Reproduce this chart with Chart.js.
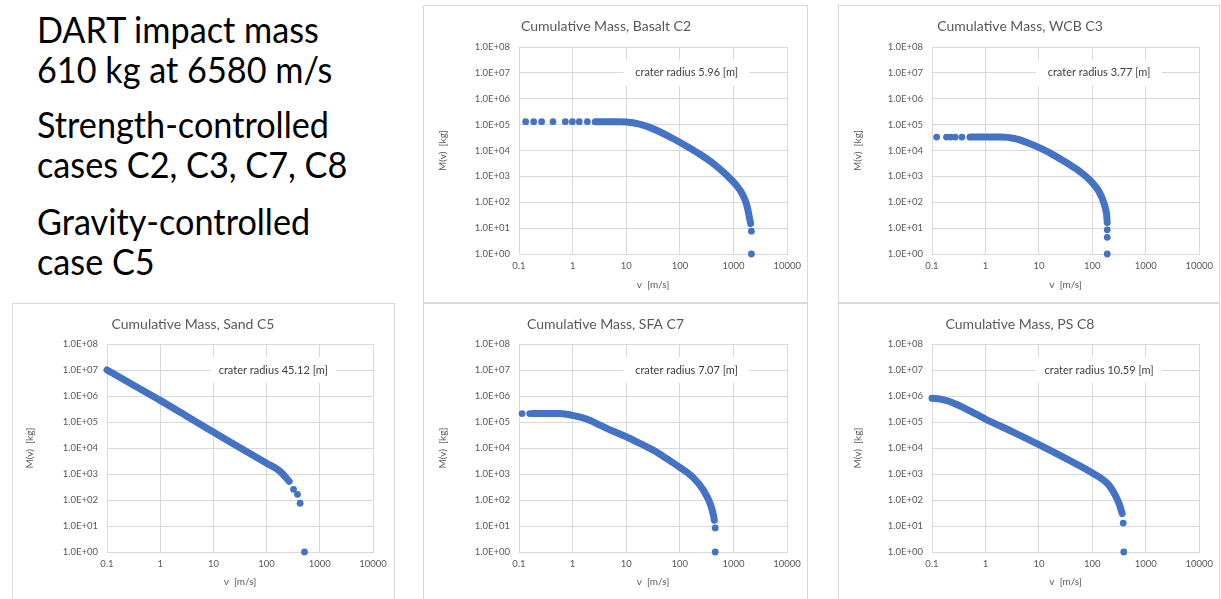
<!DOCTYPE html>
<html>
<head>
<meta charset="utf-8">
<script src="https://cdn.jsdelivr.net/npm/chart.js@4.4.1/dist/chart.umd.min.js"></script>
<style>
  body { margin: 0; background: #fff; width: 1221px; height: 599px; position: relative; overflow: hidden; font-family: Lato, sans-serif; }
  .note { position: absolute; left: 37px; font-size: 37px; line-height: 40px; color: #000; white-space: nowrap; transform-origin: 0 0; transform: scaleX(0.925); }
  .panel { position: absolute; border: 1px solid #d9d9d9; box-sizing: border-box; background: #fff; }
  .panel canvas { position: absolute; left: 0; top: 0; }
</style>
</head>
<body>
<div class="note" style="top:9px">DART impact mass<br>610 kg at 6580 m/s</div>
<div class="note" style="top:104px">Strength-controlled<br>cases C2, C3, C7, C8</div>
<div class="note" style="top:201px">Gravity-controlled<br>case C5</div>

<div class="panel" id="p-basalt"><canvas id="c-basalt"></canvas></div>
<div class="panel" id="p-wcb"><canvas id="c-wcb"></canvas></div>
<div class="panel" id="p-sand"><canvas id="c-sand"></canvas></div>
<div class="panel" id="p-sfa"><canvas id="c-sfa"></canvas></div>
<div class="panel" id="p-ps"><canvas id="c-ps"></canvas></div>

<script>
// axis ticks (decades)
const xTicks = [0.1, 1, 10, 100, 1000, 10000];
const yTicks = [1, 10, 100, 1e3, 1e4, 1e5, 1e6, 1e7, 1e8];

// Basalt C2 -- dense band + loose points
const basaltBandV = [2.64, 7.5, 13.3, 23.6, 41.8, 74, 131, 232, 412, 730, 1120, 1490, 1770, 1985, 2080];
const basaltBandM = [1.3e5, 1.3e5, 1.18e5, 8.7e4, 5.3e4, 2.9e4, 1.5e4, 7.3e3, 3.2e3, 1150, 460, 190, 75, 24, 15];
const basaltDotV = [0.133, 0.188, 0.264, 0.43, 0.73, 0.99, 1.33, 1.88, 2150, 2150];
const basaltDotM = [1.3e5, 1.3e5, 1.3e5, 1.3e5, 1.3e5, 1.3e5, 1.3e5, 1.3e5, 7.6, 1];

// WCB C3
const wcbBandV = [0.54, 1.96, 3.47, 6.15, 10.9, 19.3, 34.2, 60.7, 93, 133, 165, 185, 190];
const wcbBandM = [3.3e4, 3.3e4, 2.9e4, 2.0e4, 1.2e4, 6.5e3, 3.2e3, 1450, 670, 260, 92, 33, 16.6];
const wcbDotV = [0.122, 0.187, 0.223, 0.272, 0.362, 0.51, 190, 190, 190];
const wcbDotM = [3.3e4, 3.3e4, 3.3e4, 3.3e4, 3.3e4, 3.3e4, 8.6, 4.4, 1];

// Sand C5
const sandBandV = [0.1, 0.316, 1, 3.16, 10, 31.6, 100, 176, 266];
const sandBandM = [1.0e7, 2.6e6, 6.8e5, 1.66e5, 4.1e4, 1.02e4, 2.6e3, 1.3e3, 520];
const sandDotV = [321, 381, 427, 516];
const sandDotM = [257, 166, 75, 1];

// SFA C7
const sfaBandV = [0.183, 0.577, 1, 1.82, 3.23, 5.73, 10, 18, 32, 57, 100, 180, 277, 368, 425, 440];
const sfaBandM = [2.1e5, 2.1e5, 1.8e5, 1.3e5, 7.6e4, 4.4e4, 2.7e4, 1.5e4, 8.3e3, 3.9e3, 1.8e3, 710, 235, 73, 26, 16.6];
const sfaDotV = [0.114, 0.158, 458, 458];
const sfaDotM = [2.1e5, 2.1e5, 8.4, 1];

// PS C8
const psBandV = [0.1, 0.14, 0.2, 0.27, 0.37, 1, 3.23, 10, 32.3, 100, 200, 275, 328, 362];
const psBandM = [8.1e5, 7.7e5, 6.4e5, 5.0e5, 3.7e5, 1.3e5, 4.2e4, 1.35e4, 3.9e3, 1.1e3, 390, 138, 59, 30];
const psDotV = [378, 387];
const psDotM = [13, 1];

const BLUE = "#4472c4";
const GRID = "#d9d9d9";
const TEXT = "#595959";

// crater radius label, centred on the 1e7 gridline
const craterLabel = {
  id: "craterLabel",
  afterDatasetsDraw(chart, args, opts) {
    const { ctx, chartArea } = chart;
    const x = chartArea.left + chartArea.width * 0.625;
    const y = chart.scales.y.getPixelForValue(1e7);
    ctx.save();
    ctx.fillStyle = "#fff";
    ctx.fillRect(x - 63, y - 13, 126, 26);
    ctx.fillStyle = "#404040";
    ctx.font = "11px Lato";
    ctx.textAlign = "center";
    ctx.textBaseline = "middle";
    ctx.fillText(opts.text, x, y);
    ctx.restore();
  }
};

function pts(xs, ys) {
  return xs.map((v, i) => ({ x: v, y: ys[i] }));
}

function makePanel(name, title, crater, bandV, bandM, dotV, dotM, frame, plot, yTitleGap) {
  const box = document.getElementById("p-" + name);
  box.style.left = frame.x + "px";
  box.style.top = frame.y + "px";
  box.style.width = frame.w + "px";
  box.style.height = frame.h + "px";

  const cw = frame.w - 2, ch = frame.h - 2;
  const cx = frame.x + 1, cy = frame.y + 1;
  const canvas = document.getElementById("c-" + name);
  canvas.width = cw;
  canvas.height = ch;

  const leftW = plot.x0 - cx;
  const topH = plot.y0 - cy;
  const rightP = cx + cw - plot.x1;
  const bottomH = cy + ch - plot.y1;
  const titleCenter = 20;
  const titleLH = 14 * 1.2;

  return new Chart(canvas.getContext("2d"), {
    type: "scatter",
    data: {
      datasets: [
        {
          data: pts(bandV, bandM),
          showLine: true,
          borderColor: BLUE,
          borderWidth: 7,
          borderCapStyle: "round",
          borderJoinStyle: "round",
          cubicInterpolationMode: "monotone",
          pointRadius: 0,
          clip: 8
        },
        {
          data: pts(dotV, dotM),
          showLine: false,
          pointRadius: 3.4,
          pointBackgroundColor: BLUE,
          pointBorderWidth: 0,
          clip: 8
        }
      ]
    },
    options: {
      responsive: false,
      animation: false,
      devicePixelRatio: 1,
      layout: { padding: { left: 0, top: 0, right: rightP, bottom: 0 } },
      plugins: {
        legend: { display: false },
        tooltip: { enabled: false },
        title: {
          display: true,
          text: title,
          color: TEXT,
          font: { family: "Lato", size: 14, weight: "normal" },
          padding: { top: titleCenter - titleLH / 2, bottom: topH - titleCenter - titleLH / 2 }
        },
        craterLabel: { text: crater }
      },
      scales: {
        x: {
          type: "logarithmic",
          min: 0.1,
          max: 10000,
          afterBuildTicks: (s) => { s.ticks = xTicks.map((v) => ({ value: v })); },
          afterFit: (s) => { s.height = bottomH; },
          grid: { color: GRID, drawTicks: false },
          border: { color: GRID },
          ticks: {
            color: TEXT,
            font: { family: "Lato", size: 9.5 },
            padding: 6,
            maxRotation: 0,
            autoSkip: false,
            callback: (v) => String(v)
          },
          title: {
            display: true,
            text: "v  [m/s]",
            color: TEXT,
            font: { family: "Lato", size: 10 },
            padding: { top: 0, bottom: 11 }
          }
        },
        y: {
          type: "logarithmic",
          min: 1,
          max: 1e8,
          afterBuildTicks: (s) => { s.ticks = yTicks.map((v) => ({ value: v })); },
          afterFit: (s) => { s.width = leftW; },
          grid: { color: GRID, drawTicks: false },
          border: { color: GRID },
          ticks: {
            color: TEXT,
            font: { family: "Lato", size: 9.5 },
            padding: 9,
            autoSkip: false,
            callback: (v) => "1.0E+" + String(Math.round(Math.log10(v))).padStart(2, "0")
          },
          title: {
            display: true,
            text: "M(v)  [kg]",
            color: TEXT,
            font: { family: "Lato", size: 10 },
            padding: { top: yTitleGap, bottom: 0 }
          }
        }
      }
    },
    plugins: [craterLabel]
  });
}

makePanel("basalt", "Cumulative Mass, Basalt C2", "crater radius 5.96 [m]",
  basaltBandV, basaltBandM, basaltDotV, basaltDotM,
  { x: 423, y: 5, w: 385, h: 298 }, { x0: 519, y0: 47, x1: 788, y1: 254 }, 13);
makePanel("wcb", "Cumulative Mass, WCB C3", "crater radius 3.77 [m]",
  wcbBandV, wcbBandM, wcbDotV, wcbDotM,
  { x: 838, y: 5, w: 382, h: 298 }, { x0: 932, y0: 47, x1: 1201, y1: 254 }, 13);
makePanel("sand", "Cumulative Mass, Sand C5", "crater radius 45.12 [m]",
  sandBandV, sandBandM, sandDotV, sandDotM,
  { x: 12, y: 303, w: 383, h: 297 }, { x0: 107, y0: 344, x1: 373, y1: 552 }, 11);
makePanel("sfa", "Cumulative Mass, SFA C7", "crater radius 7.07 [m]",
  sfaBandV, sfaBandM, sfaDotV, sfaDotM,
  { x: 423, y: 303, w: 385, h: 297 }, { x0: 519, y0: 344, x1: 787, y1: 552 }, 13);
makePanel("ps", "Cumulative Mass, PS C8", "crater radius 10.59 [m]",
  psBandV, psBandM, psDotV, psDotM,
  { x: 838, y: 303, w: 382, h: 297 }, { x0: 932, y0: 344, x1: 1201, y1: 552 }, 13);
</script>
</body>
</html>
